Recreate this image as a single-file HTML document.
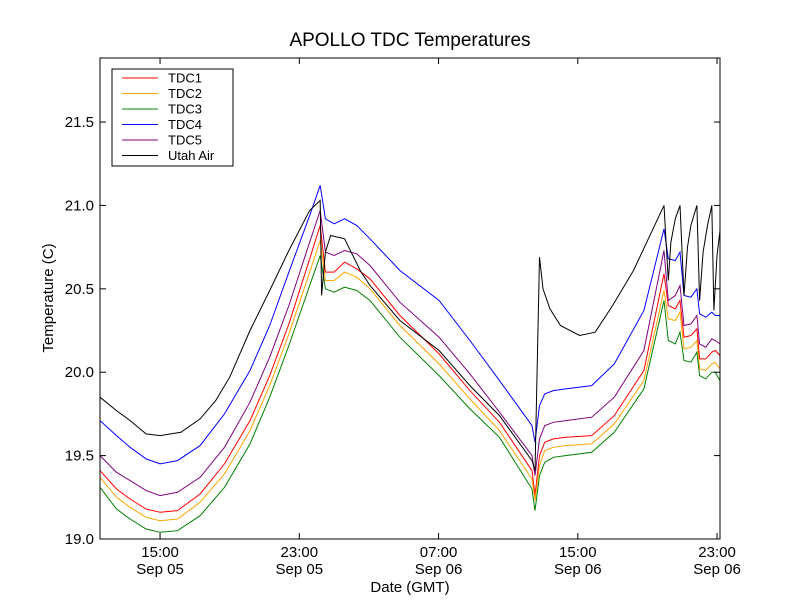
<!DOCTYPE html>
<html><head><meta charset="utf-8"><style>
body{margin:0;background:#fff;}
svg text{font-family:"Liberation Sans","DejaVu Sans",sans-serif;}
</style></head><body>
<svg id="chart" width="800" height="600" xmlns="http://www.w3.org/2000/svg">
<rect width="800" height="600" fill="#fff"/>
<text x="410" y="46" font-size="19" text-anchor="middle">APOLLO TDC Temperatures</text>
<text x="410" y="592" font-size="15" text-anchor="middle">Date (GMT)</text>
<text x="53" y="298" font-size="15" text-anchor="middle" transform="rotate(-90 53 298)">Temperature (C)</text>
<g id="series"></g>
<rect x="100" y="58" width="620" height="481" fill="none" stroke="#000" stroke-width="1"/>
<g id="ticks"></g>
<g>
<rect x="112" y="69" width="121" height="97" fill="#fff" stroke="#000"/>
<g id="legend-items"></g>
</g>
</svg>
<script>
const times=[11.55,12.5,13.28,14.2,15,16.0,17.3,18.7,20.17,21.3,22.4,23.6,24.2,24.5,25.0,25.6,26.3,27.06,28.78,31.03,32.8,34.5,36.37,36.54,36.8,37.1,37.6,38.3,39.8,41.1,42.8,43.95,44.2,44.6,44.87,45.1,45.5,45.84,46.0,46.35,46.7,46.9,47.17];
const tdc1=[19.41,19.30,19.24,19.18,19.16,19.17,19.27,19.45,19.71,19.98,20.29,20.68,20.88,20.60,20.60,20.66,20.62,20.56,20.34,20.11,19.89,19.70,19.41,19.26,19.50,19.58,19.60,19.61,19.62,19.74,20.01,20.59,20.40,20.38,20.43,20.21,20.22,20.26,20.08,20.08,20.12,20.13,20.10];
const tdc2=[19.37,19.25,19.19,19.13,19.11,19.12,19.22,19.39,19.65,19.92,20.23,20.60,20.79,20.55,20.55,20.60,20.57,20.50,20.28,20.05,19.84,19.65,19.36,19.23,19.44,19.53,19.55,19.56,19.57,19.69,19.95,20.49,20.32,20.31,20.36,20.14,20.15,20.19,20.02,20.01,20.05,20.06,20.02];
const tdc3=[19.31,19.18,19.12,19.06,19.04,19.05,19.14,19.31,19.57,19.85,20.16,20.52,20.70,20.50,20.48,20.51,20.49,20.43,20.21,19.98,19.78,19.61,19.30,19.17,19.38,19.46,19.49,19.50,19.52,19.64,19.90,20.43,20.19,20.17,20.24,20.07,20.06,20.12,19.98,19.96,20.00,20.00,19.95];
const tdc4=[19.71,19.62,19.55,19.48,19.45,19.47,19.56,19.75,20.01,20.28,20.60,20.94,21.12,20.92,20.89,20.92,20.88,20.80,20.61,20.43,20.19,19.95,19.68,19.58,19.80,19.87,19.89,19.90,19.92,20.05,20.37,20.86,20.68,20.67,20.72,20.46,20.45,20.50,20.35,20.33,20.36,20.34,20.34];
const tdc5=[19.50,19.40,19.35,19.29,19.26,19.28,19.37,19.55,19.82,20.09,20.40,20.78,20.97,20.72,20.70,20.73,20.71,20.64,20.42,20.21,19.99,19.76,19.50,19.38,19.60,19.68,19.70,19.71,19.73,19.85,20.13,20.73,20.43,20.46,20.52,20.28,20.29,20.34,20.17,20.15,20.20,20.19,20.17];
const airTimes=[11.55,12.5,13.28,14.2,15,16.2,17.3,18.2,19.0,20.17,21.3,22.4,23.6,24.2,24.28,24.5,24.8,25.6,26.5,27.06,28.78,31.03,32.8,34.5,36.37,36.54,36.65,36.8,37.0,37.4,38.0,39.1,40.0,41.0,42.2,43.95,44.2,44.35,44.6,44.87,45.1,45.3,45.5,45.84,46.0,46.2,46.45,46.7,46.82,47.0,47.17];
const utahAir=[19.85,19.77,19.71,19.63,19.62,19.64,19.72,19.83,19.97,20.25,20.49,20.73,20.97,21.03,20.46,20.72,20.82,20.80,20.61,20.52,20.31,20.13,19.92,19.74,19.47,19.41,19.95,20.69,20.50,20.38,20.28,20.22,20.24,20.40,20.61,21.0,20.55,20.78,20.92,21.0,20.46,20.75,20.88,21.0,20.43,20.72,20.88,21.0,20.37,20.70,20.85];
const yTicks=[19.0,19.5,20.0,20.5,21.0,21.5];
const xTicks=[15,23,31,39,47];
const xTimeLabels=["15:00","23:00","07:00","15:00","23:00"];
const xDateLabels=["Sep 05","Sep 05","Sep 06","Sep 06","Sep 06"];
const seriesNames=["TDC1","TDC2","TDC3","TDC4","TDC5","Utah Air"];
const seriesColors=["red","orange","green","blue","purple","black"];

const X0=100,X1=720,Y0=539,Y1=58;
const xMin=11.55,xMax=47.17,yMin=19.0,yMax=21.884;
const xs=h=>X0+(h-xMin)/(xMax-xMin)*(X1-X0);
const ys=v=>Y0-(v-yMin)/(yMax-yMin)*(Y0-Y1);
const NS="http://www.w3.org/2000/svg";
const sg=document.getElementById('series');
const all=[[times,tdc1],[times,tdc2],[times,tdc3],[times,tdc4],[times,tdc5],[airTimes,utahAir]];
all.forEach((s,i)=>{
  const p=document.createElementNS(NS,'polyline');
  p.setAttribute('points',s[0].map((t,j)=>xs(t).toFixed(1)+','+ys(s[1][j]).toFixed(1)).join(' '));
  p.setAttribute('fill','none');p.setAttribute('stroke',seriesColors[i]);p.setAttribute('stroke-width','1');
  
  
  sg.appendChild(p);
});
const tg=document.getElementById('ticks');
function ln(x1,y1,x2,y2){const l=document.createElementNS(NS,'line');l.setAttribute('x1',x1);l.setAttribute('y1',y1);l.setAttribute('x2',x2);l.setAttribute('y2',y2);l.setAttribute('stroke','#000');


tg.appendChild(l);}
function tx(x,y,s,anchor){const t=document.createElementNS(NS,'text');t.setAttribute('x',x);t.setAttribute('y',y);t.setAttribute('font-size','15');t.setAttribute('text-anchor',anchor);t.textContent=s;


tg.appendChild(t);}
yTicks.forEach(v=>{const y=ys(v);ln(X0,y,X0+6,y);ln(X1,y,X1-6,y);tx(X0-6,y+5,v.toFixed(1),'end');});
xTicks.forEach((h,i)=>{const x=xs(h);ln(x,Y0,x,Y0-6);ln(x,Y1,x,Y1+6);tx(x,557,xTimeLabels[i],'middle');tx(x,574,xDateLabels[i],'middle');});
const lg=document.getElementById('legend-items');
seriesNames.forEach((n,i)=>{const y=78+i*15.5;
  const l=document.createElementNS(NS,'line');l.setAttribute('x1',122);l.setAttribute('x2',158);l.setAttribute('y1',y);l.setAttribute('y2',y);l.setAttribute('stroke',seriesColors[i]);
  
  
  lg.appendChild(l);
  const t=document.createElementNS(NS,'text');t.setAttribute('x',168);t.setAttribute('y',y+4.5);t.setAttribute('font-size','13');t.textContent=n;
  
  
  lg.appendChild(t);
});
</script>
</body></html>
